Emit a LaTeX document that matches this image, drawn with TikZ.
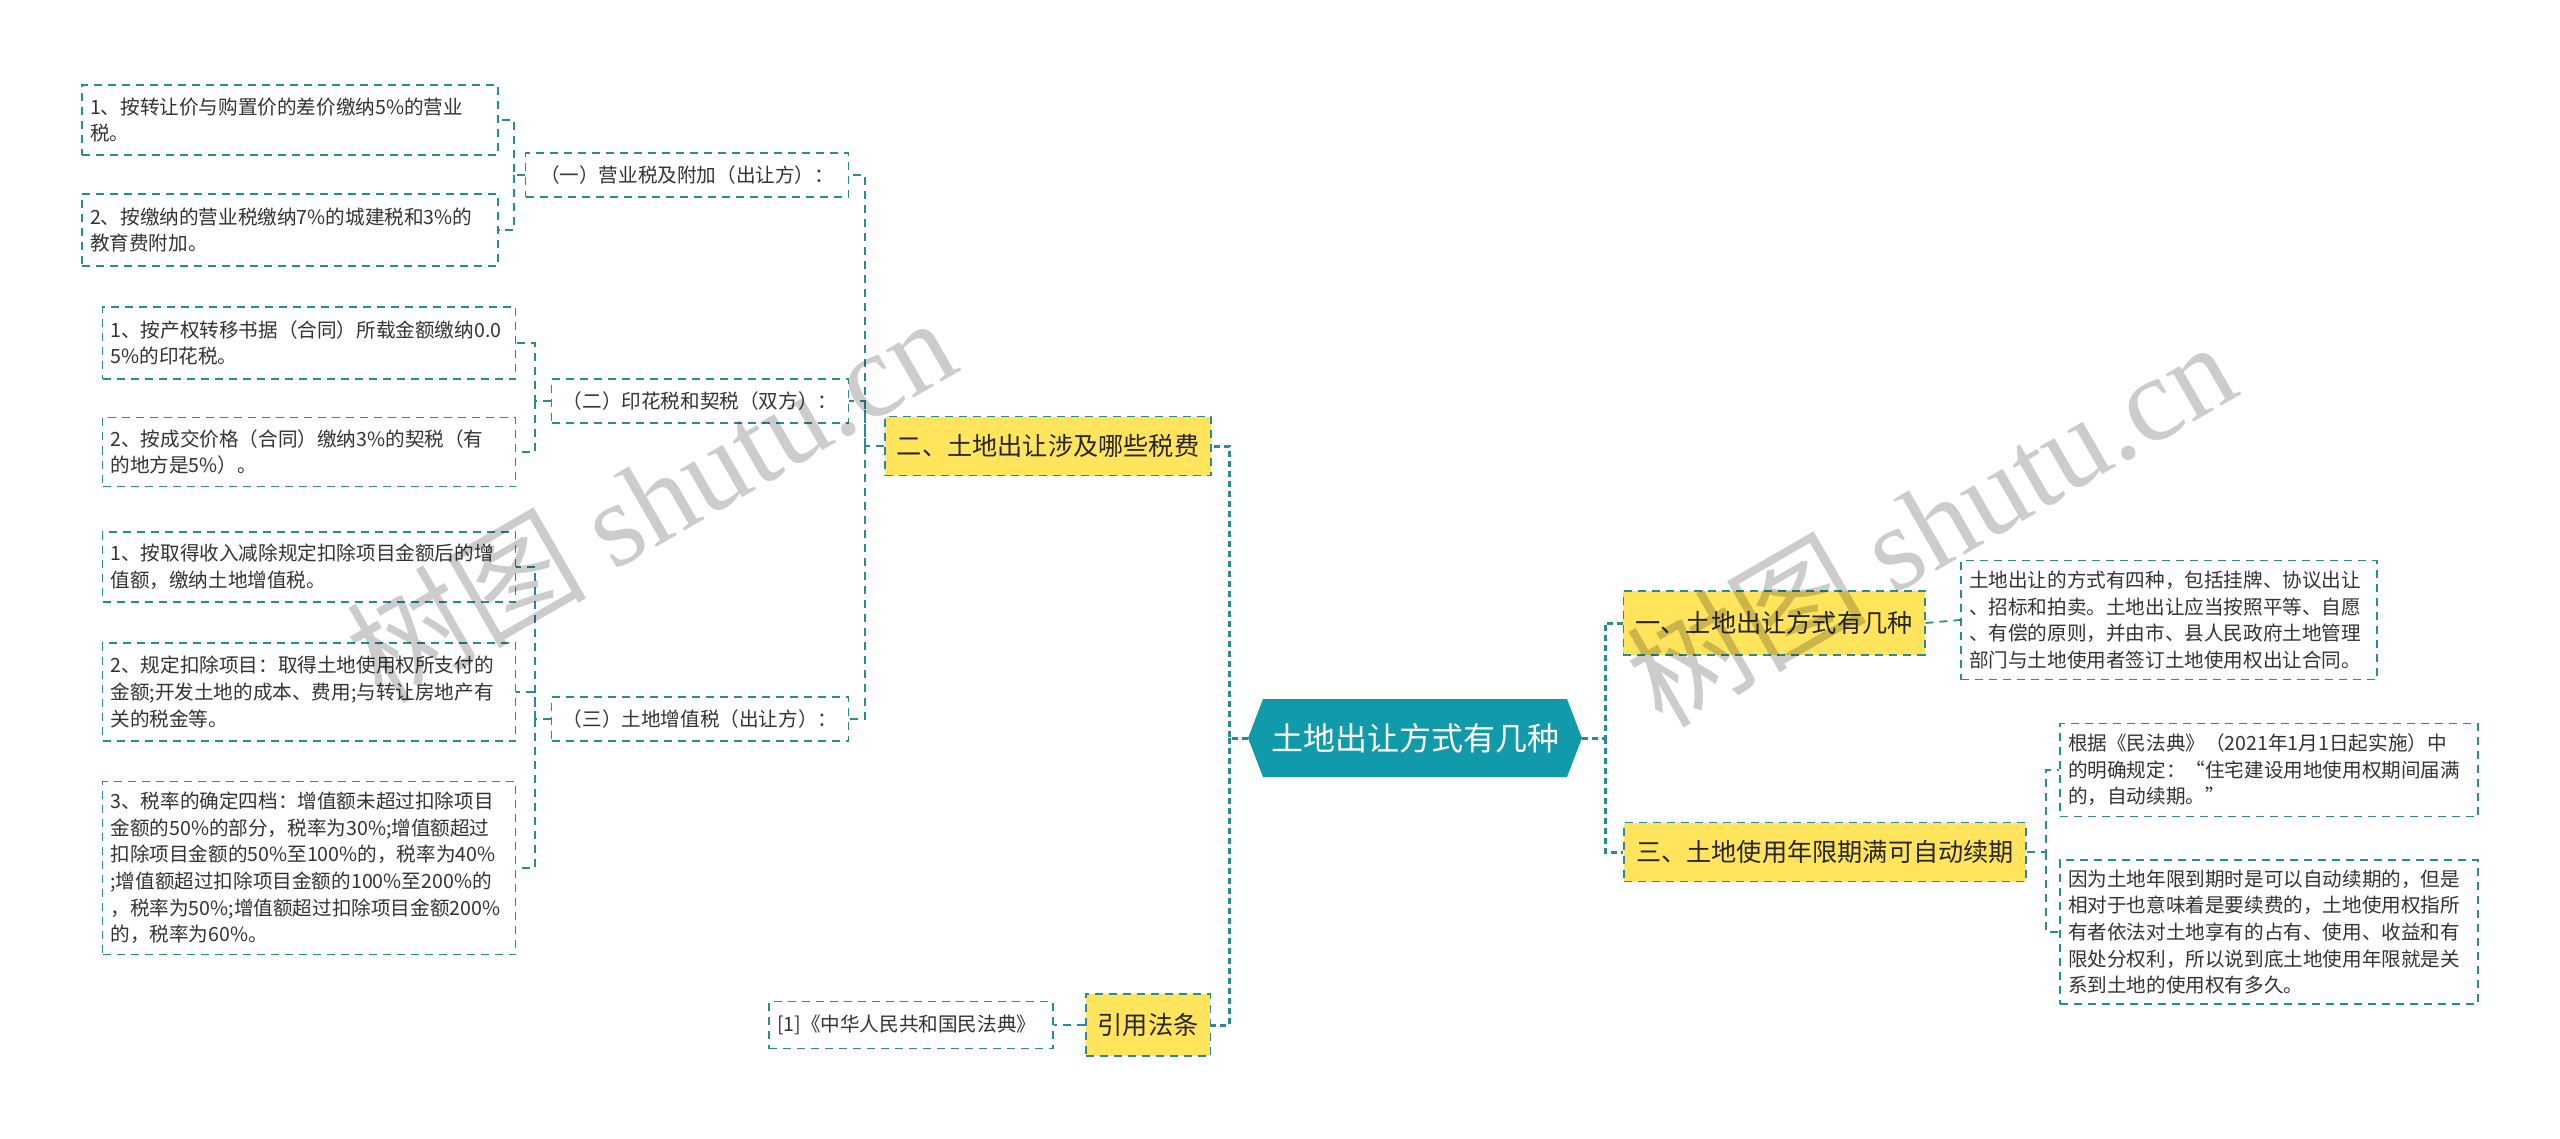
\documentclass[tikz,border=0pt]{standalone}
\usepackage{fontspec}
\setmainfont{Noto Sans CJK SC}
\newfontfamily\wmfont{Liberation Serif}
\usepackage{xcolor}
\usepackage{tikz}
\usetikzlibrary{shapes.symbols}
\definecolor{lineteal}{HTML}{2A8A96}
\definecolor{rootteal}{HTML}{109AAA}
\definecolor{mainyellow}{HTML}{FFE45C}
\definecolor{txtgray}{HTML}{333333}

\begin{document}
\begin{tikzpicture}[x=0.5pt,y=-0.5pt,
    box/.style={draw=lineteal, line width=0.9pt, dash pattern=on 4pt off 3pt, text=txtgray},
    leaf/.style={box, fill=white, align=left, inner xsep=4pt, inner ysep=2pt, text width=#1,
      font=\fontsize{9.8}{13.3}\selectfont},
    leaf/.default=200pt,
    sub/.style={box, fill=white, align=center, inner xsep=4pt, inner ysep=0pt, text width=#1,
      minimum height=22pt, font=\fontsize{9.8}{12}\selectfont},
    mainbox/.style={box, fill=mainyellow, inner xsep=6pt, inner ysep=0pt, text=black!85,
      font=\fontsize{12.6}{15}\selectfont},
    rootbox/.style={signal, signal to=west and east, signal pointer angle=138, fill=rootteal,
      text=white, inner xsep=4pt, inner ysep=0pt, minimum height=39pt, font=\fontsize{16}{19}\selectfont},
    link/.style={draw=lineteal, line width=0.9pt, dash pattern=on 4pt off 3pt},
    rootlink/.style={draw=lineteal, line width=1.5pt, dash pattern=on 3pt off 2pt},
    wm/.style={text=black, opacity=0.2, rotate=30, font=\fontsize{60}{60}\selectfont}
  ]
  \useasboundingbox (0,0) rectangle (2560,1139);

  % centre and first level
  \node[rootbox] (root) at (1415,738) {土地出让方式有几种};
  \node[mainbox, minimum height=29.5pt] (m2) at (1048,446) {二、土地出让涉及哪些税费};
  \node[mainbox, minimum height=31pt] (m4) at (1148,1025) {引用法条};
  \node[mainbox, minimum height=32pt] (m1) at (1774,623) {一、土地出让方式有几种};
  \node[mainbox, minimum height=29.5pt] (m3) at (1825,852) {三、土地使用年限期满可自动续期};

  % taxes
  \node[sub=153.5pt] (s1) at (687,175) {（一）营业税及附加（出让方）：};
  \node[sub=140.5pt] (s2) at (700,401) {（二）印花税和契税（双方）：};
  \node[sub=140.5pt] (s3) at (700,719) {（三）土地增值税（出让方）：};

  \node[leaf, minimum height=35pt] (l11) at (290,120) {1、按转让价与购置价的差价缴纳5\%的营业\\税。};
  \node[leaf, minimum height=36pt] (l12) at (290,230) {2、按缴纳的营业税缴纳7\%的城建税和3\%的\\教育费附加。};
  \node[leaf=198.5pt, minimum height=36pt] (l21) at (309,343) {1、按产权转移书据（合同）所载金额缴纳0.0\\5\%的印花税。};
  \node[leaf=198.5pt, minimum height=34.5pt] (l22) at (309,452) {2、按成交价格（合同）缴纳3\%的契税（有\\的地方是5\%）。};
  \node[leaf=198.5pt, minimum height=35pt] (l31) at (309,567) {1、按取得收入减除规定扣除项目金额后的增\\值额，缴纳土地增值税。};
  \node[leaf=198.5pt, minimum height=49pt] (l32) at (309,692) {2、规定扣除项目：取得土地使用权所支付的\\金额;开发土地的成本、费用;与转让房地产有\\关的税金等。};
  \node[leaf=198.5pt, minimum height=86.5pt] (l33) at (309,868) {3、税率的确定四档：增值额未超过扣除项目\\金额的50\%的部分，税率为30\%;增值额超过\\扣除项目金额的50\%至100\%的，税率为40\%\\;增值额超过扣除项目金额的100\%至200\%的\\，税率为50\%;增值额超过扣除项目金额200\%\\的，税率为60\%。};

  \node[leaf=134pt, minimum height=23.5pt] (c1) at (911,1025) {[1]《中华人民共和国民法典》};

  % right side
  \node[leaf, minimum height=59.5pt] (r1) at (2169,620) {土地出让的方式有四种，包括挂牌、协议出让\\、招标和拍卖。土地出让应当按照平等、自愿\\、有偿的原则，并由市、县人民政府土地管理\\部门与土地使用者签订土地使用权出让合同。};
  \node[leaf=201pt, minimum height=46.5pt] (r31) at (2269,770) {根据《民法典》（2021年1月1日起实施）中\\的明确规定：“住宅建设用地使用权期间届满\\的，自动续期。”};
  \node[leaf=201pt, minimum height=72pt] (r32) at (2269,932) {因为土地年限到期时是可以自动续期的，但是\\相对于也意味着是要续费的，土地使用权指所\\有者依法对土地享有的占有、使用、收益和有\\限处分权利，所以说到底土地使用年限就是关\\系到土地的使用权有多久。};

  % joints
  \coordinate (jl) at (1229,738);
  \coordinate (jr) at (1605,738);
  \coordinate (j2) at (865,446);
  \coordinate (j21) at (514,175);
  \coordinate (j22) at (535,401);
  \coordinate (j23) at (535,719);
  \coordinate (j3) at (2046,852);

  \draw[rootlink] (root.west) -- (jl) |- (m2.east);
  \draw[rootlink] (jl) |- (m4.east);
  \draw[rootlink] (root.east) -- (jr) |- (m1.west);
  \draw[rootlink] (jr) |- (m3.west);

  \draw[link] (m2.west) -- (j2) |- (s1.east);
  \draw[link] (j2) |- (s2.east);
  \draw[link] (j2) |- (s3.east);
  \draw[link] (s1.west) -- (j21) |- (l11.east);
  \draw[link] (j21) |- (l12.east);
  \draw[link] (s2.west) -- (j22) |- (l21.east);
  \draw[link] (j22) |- (l22.east);
  \draw[link] (s3.west) -- (j23) |- (l31.east);
  \draw[link] (j23) |- (l32.east);
  \draw[link] (j23) |- (l33.east);
  \draw[link] (m4.west) -- (c1.east);
  \draw[link] (m1.east) -- (r1.west);
  \draw[link] (m3.east) -- (j3) |- (r31.west);
  \draw[link] (j3) |- (r32.west);

  % watermark
  \node[wm] (wm1) at (650,498) {树图 {\wmfont shutu.cn}};
  \node[wm] (wm2) at (1930,522) {树图 {\wmfont shutu.cn}};
\end{tikzpicture}
\end{document}
